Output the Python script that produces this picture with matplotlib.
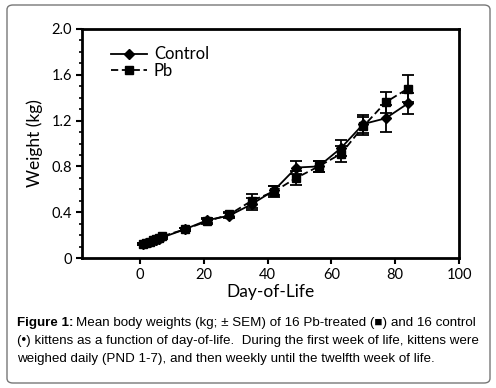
"""Mean body weight of Pb-treated and control kittens by day of life"""

import matplotlib
matplotlib.use('Agg')
from matplotlib import pyplot as plt
from matplotlib.patches import FancyBboxPatch
from matplotlib.ticker import MultipleLocator

days = [1, 2, 3, 4, 5, 6, 7, 14, 21, 28, 35, 42, 49, 56, 63, 70, 77, 84]
control = [0.12, 0.13, 0.14, 0.15, 0.16, 0.17, 0.18, 0.25, 0.33, 0.37,
           0.47, 0.59, 0.79, 0.80, 0.96, 1.17, 1.22, 1.35]
control_sem = [0.01, 0.01, 0.01, 0.01, 0.01, 0.01, 0.01, 0.015, 0.02, 0.02,
               0.05, 0.04, 0.06, 0.05, 0.07, 0.08, 0.12, 0.09]
pb = [0.12, 0.13, 0.14, 0.155, 0.165, 0.175, 0.19, 0.25, 0.32, 0.38,
      0.50, 0.58, 0.70, 0.80, 0.91, 1.15, 1.36, 1.48]
pb_sem = [0.01, 0.01, 0.01, 0.01, 0.01, 0.01, 0.01, 0.015, 0.02, 0.02,
          0.06, 0.05, 0.06, 0.05, 0.07, 0.08, 0.09, 0.12]

caption = ['Mean body weights (kg; \u00b1 SEM) of 16 Pb-treated (\u25a0) and 16 control',
           '(\u2022) kittens as a function of day-of-life.  During the first week of life, kittens were',
           'weighed daily (PND 1-7), and then weekly until the twelfth week of life.']

axis_font = 'Lato'

fig = plt.figure(figsize=(4.96, 3.88), dpi=100)

# rounded frame around figure + caption (kept behind the axes)
frame = FancyBboxPatch((7 / 496, 5 / 388), 483 / 496, 378 / 388,
                       boxstyle='round,pad=0,rounding_size=0.012',
                       transform=fig.transFigure, facecolor='none',
                       edgecolor='#777777', linewidth=1.0, zorder=-1)
fig.patches.append(frame)

ax = fig.add_axes([82 / 496, 1 - 258 / 388, 377 / 496, 229 / 388])

c_err = ax.errorbar(days, control, yerr=control_sem, color='black', marker='D',
                    markersize=5.5, linewidth=1.3, elinewidth=1.3, capsize=4,
                    capthick=1.3)
p_err = ax.errorbar(days, pb, yerr=pb_sem, color='black', marker='s',
                    markersize=6, linewidth=1.3, linestyle=(0, (4, 2)),
                    elinewidth=1.3, capsize=4, capthick=1.3)

ax.set_xlim(-18.2, 100)
ax.set_ylim(0, 2.0)
ax.set_xticks([0, 20, 40, 60, 80, 100])
ax.set_yticks([0, 0.4, 0.8, 1.2, 1.6, 2.0])
ax.set_yticklabels(['0', '0.4', '0.8', '1.2', '1.6', '2.0'])
ax.yaxis.set_minor_locator(MultipleLocator(0.1))

for side in ['left', 'right', 'top', 'bottom']:
    ax.spines[side].set_linewidth(2)
ax.tick_params(which='major', direction='out', length=4, width=1.5,
               labelsize=10.5, pad=3)
ax.tick_params(which='minor', direction='out', length=2.5, width=1.2)
for lab in ax.get_xticklabels() + ax.get_yticklabels():
    lab.set_family(axis_font)

ax.set_xlabel('Day-of-Life', fontsize=12.5, family=axis_font, labelpad=2)
ax.set_ylabel('Weight (kg)', fontsize=12.5, family=axis_font, labelpad=6)

# legend shows the plain line + marker, no error bars
ax.legend([c_err.lines[0], p_err.lines[0]], ['Control', 'Pb'],
          loc='upper left', bbox_to_anchor=(0.045, 0.975), frameon=False,
          prop={'family': axis_font, 'size': 12}, handlelength=2.2,
          handletextpad=0.4, labelspacing=0.05, borderaxespad=0.3)

# caption under the chart
cap_size = 9.6
y0 = 1 - 326 / 388
for i, line in enumerate(caption):
    y = y0 - i * 18 / 388
    if i == 0:
        t = fig.text(17 / 496, y, 'Figure 1:', fontsize=cap_size, weight='bold',
                     family='Liberation Sans', va='baseline')
        fig.canvas.draw()
        bb = t.get_window_extent()
        fig.text(bb.x1 / 496 + 3 / 496, y, line, fontsize=cap_size,
                 family='Liberation Sans', va='baseline')
    else:
        fig.text(17 / 496, y, line, fontsize=cap_size, family='Liberation Sans',
                 va='baseline')

plt.savefig('out.png', dpi=100)
